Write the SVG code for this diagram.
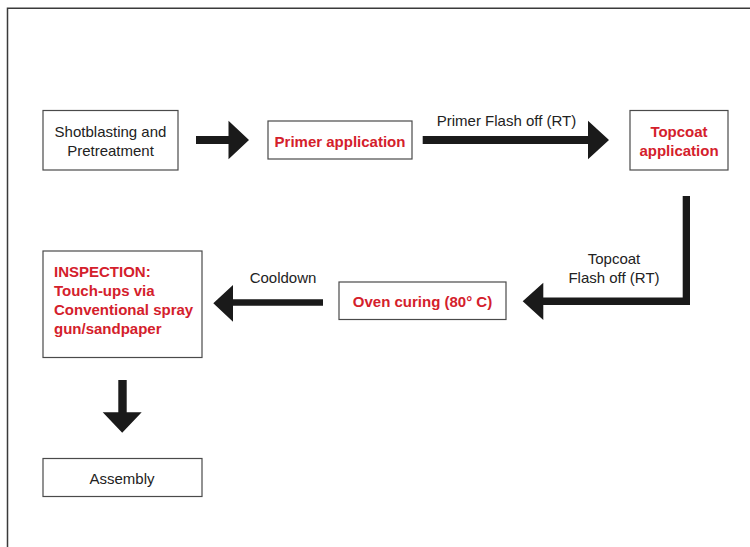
<svg xmlns="http://www.w3.org/2000/svg" width="750" height="547" viewBox="0 0 750 547">
<style>
.box{fill:#fff;stroke:#4a4a4a;stroke-width:1.2}
.t{font-family:"Liberation Sans",Arial,sans-serif;font-size:15px;fill:#222;text-anchor:middle}
.r{font-family:"Liberation Sans",Arial,sans-serif;font-size:15px;font-weight:bold;fill:#d4202b;text-anchor:middle}
.arr{fill:#1a1a1a}
</style>
<rect x="0" y="0" width="750" height="547" fill="#fff"/>
<path d="M7.5 547 V8.3 H750" fill="none" stroke="#3a3a3a" stroke-width="1.5"/>
<g id="n1"><rect class="box" x="43" y="110.5" width="135" height="59.5"/><text class="t" x="110.5" y="137">Shotblasting and</text><text class="t" x="110.5" y="155.5">Pretreatment</text></g>
<g id="n2"><rect class="box" x="268" y="121" width="144" height="38"/><text class="r" x="340" y="146.5">Primer application</text></g>
<g id="n3"><rect class="box" x="630" y="110.5" width="98" height="59.5"/><text class="r" x="679" y="137">Topcoat</text><text class="r" x="679" y="155.5">application</text></g>
<g id="n4"><rect class="box" x="339" y="282" width="167" height="37.5"/><text class="r" x="422.5" y="306.5">Oven curing (80° C)</text></g>
<g id="n5"><rect class="box" x="43" y="251" width="159" height="106.5"/><text class="r" x="54" y="277" text-anchor="start" style="text-anchor:start">INSPECTION:</text><text class="r" x="54" y="296" style="text-anchor:start">Touch-ups via</text><text class="r" x="54" y="315" style="text-anchor:start">Conventional spray</text><text class="r" x="54" y="334" style="text-anchor:start">gun/sandpaper</text></g>
<g id="n6"><rect class="box" x="43" y="458.5" width="159" height="38"/><text class="t" x="122" y="483.5">Assembly</text></g>
<g id="connectors">
<path class="arr" d="M196 136 H228.5 V120.7 L249 140 L228.5 159.3 V144 H196 Z"/>
<path class="arr" d="M422.7 136 H588 V120.7 L609 140 L588 159.3 V144 H422.7 Z"/>
<path class="arr" d="M682.7 196 H690 V305 H543.3 V320 L522.7 301.3 L543.3 282.7 V297.5 H682.7 Z"/>
<path class="arr" d="M323 299.3 V305.8 H233 V321.7 L213.3 303.3 L233 285 V299.3 Z"/>
<path class="arr" d="M118.3 380 H126.7 V412.3 H141.7 L122.2 432.7 L102.7 412.3 H118.3 Z"/>
<text class="t" x="506.5" y="126">Primer Flash off (RT)</text>
<text class="t" x="614" y="264">Topcoat</text>
<text class="t" x="614" y="283">Flash off (RT)</text>
<text class="t" x="283" y="283">Cooldown</text>
</g>
</svg>
